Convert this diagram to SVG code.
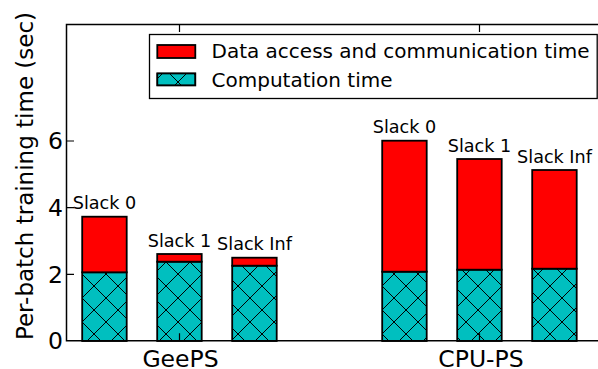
<svg xmlns="http://www.w3.org/2000/svg" width="598" height="369" viewBox="0 0 598 369">
  <style>
    text { font-family: "DejaVu Sans", sans-serif; fill: #000; }
    .tick { font-size: 23.5px; }
    .ylab { font-size: 23px; }
    .slack { font-size: 17.6px; text-anchor: middle; }
    .leg { font-size: 20px; }
    .comm { fill: #ff0000; stroke: #000; stroke-width: 1.8; }
    .comp { fill: #00bfbf; stroke: #000; stroke-width: 1.8; }
    .hatch { fill: url(#xhatch); stroke: none; }
    .spine { stroke: #000; stroke-width: 1.5; fill: none; }
    .tk { stroke: #000; stroke-width: 1.2; }
  </style>
  <defs>
    <!-- cross hatch, 24px period, anchored to the canvas -->
    <pattern id="xhatch" patternUnits="userSpaceOnUse" x="-2" y="-2" width="24" height="24">
      <path d="M-2,-2 L26,26 M-2,26 L26,-2" stroke="#000" stroke-width="1" fill="none"/>
    </pattern>
  </defs>

  <rect width="598" height="369" fill="#fff"/>

  <!-- GeePS bars -->
  <g id="geeps-slack0">
    <rect class="comp" x="82.2" y="272.3" width="44.5" height="68.7"/>
    <rect class="hatch" x="82.2" y="272.3" width="44.5" height="68.7"/>
    <rect class="comm" x="82.2" y="216.7" width="44.5" height="55.6"/>
    <text class="slack" x="104.5" y="209.4">Slack 0</text>
  </g>
  <g id="geeps-slack1">
    <rect class="comp" x="157.2" y="261.7" width="44.5" height="79.3"/>
    <rect class="hatch" x="157.2" y="261.7" width="44.5" height="79.3"/>
    <rect class="comm" x="157.2" y="254" width="44.5" height="7.7"/>
    <text class="slack" x="179.5" y="246.7">Slack 1</text>
  </g>
  <g id="geeps-slackinf">
    <rect class="comp" x="232.2" y="265.7" width="44.5" height="75.3"/>
    <rect class="hatch" x="232.2" y="265.7" width="44.5" height="75.3"/>
    <rect class="comm" x="232.2" y="257.7" width="44.5" height="8"/>
    <text class="slack" x="254.5" y="250.2">Slack Inf</text>
  </g>

  <!-- CPU-PS bars -->
  <g id="cpups-slack0">
    <rect class="comp" x="382.2" y="271.7" width="44.5" height="69.3"/>
    <rect class="hatch" x="382.2" y="271.7" width="44.5" height="69.3"/>
    <rect class="comm" x="382.2" y="140.7" width="44.5" height="131"/>
    <text class="slack" x="404.5" y="133.4">Slack 0</text>
  </g>
  <g id="cpups-slack1">
    <rect class="comp" x="457.2" y="269.7" width="44.5" height="71.3"/>
    <rect class="hatch" x="457.2" y="269.7" width="44.5" height="71.3"/>
    <rect class="comm" x="457.2" y="159" width="44.5" height="110.7"/>
    <text class="slack" x="479.5" y="151.7">Slack 1</text>
  </g>
  <g id="cpups-slackinf">
    <rect class="comp" x="532.2" y="268.7" width="44.5" height="72.3"/>
    <rect class="hatch" x="532.2" y="268.7" width="44.5" height="72.3"/>
    <rect class="comm" x="532.2" y="170" width="44.5" height="98.7"/>
    <text class="slack" x="554.5" y="162.7">Slack Inf</text>
  </g>

  <!-- axes frame and ticks -->
  <g id="axes">
    <path class="spine" d="M600,24.5 H66.5 V340.8 H600"/>
    <path class="tk" d="M66.5,274.3 H74 M66.5,207.7 H74 M66.5,141 H74 M179.5,24.5 V32 M479.5,24.5 V32 M179.5,340.8 V333.3 M479.5,340.8 V333.3"/>
    <g class="tick" text-anchor="end">
      <text x="63" y="349.4">0</text>
      <text x="63" y="282.7">2</text>
      <text x="63" y="216.1">4</text>
      <text x="63" y="149.4">6</text>
    </g>
    <g class="tick" text-anchor="middle">
      <text x="180.5" y="366.5">GeePS</text>
      <text x="481" y="366.5">CPU-PS</text>
    </g>
    <text class="ylab" text-anchor="middle" transform="translate(33,176) rotate(-90)">Per-batch training time (sec)</text>
  </g>

  <!-- legend -->
  <g id="legend">
    <rect x="149.5" y="34.5" width="447.7" height="64" fill="#fff" stroke="#000" stroke-width="1.3"/>
    <rect class="comm" x="157.3" y="45" width="38" height="13" stroke-width="1.3"/>
    <rect class="comp" x="157.3" y="73.4" width="38" height="12" stroke-width="1.3"/>
    <rect class="hatch" x="157.3" y="73.4" width="38" height="12"/>
    <rect x="157.3" y="73.4" width="38" height="12" fill="none" stroke="#000" stroke-width="1.3"/>
    <text class="leg" x="211.5" y="58.3">Data access and communication time</text>
    <text class="leg" x="211.5" y="87.3">Computation time</text>
  </g>
</svg>
